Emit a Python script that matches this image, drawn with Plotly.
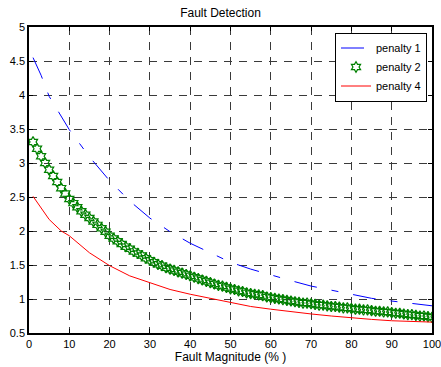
import plotly.graph_objects as go

# ---- data ----
x_p1 = [1, 3, 5, 10, 15, 20, 25, 30, 35, 40, 45, 50, 55, 60, 65, 70, 75, 80, 85, 90, 95, 100]
y_p1 = [4.55, 4.29, 3.98, 3.49, 3.09, 2.74, 2.44, 2.19, 1.99, 1.82, 1.68, 1.54, 1.44, 1.35,
        1.27, 1.19, 1.13, 1.06, 1.01, 0.97, 0.94, 0.90]

x_p2 = list(range(1, 101))
y_p2 = [3.31, 3.21, 3.10, 3.00, 2.90, 2.81, 2.72, 2.63, 2.55, 2.47,
        2.41, 2.35, 2.29, 2.24, 2.19, 2.14, 2.09, 2.04, 1.99, 1.93,
        1.89, 1.85, 1.81, 1.77, 1.74, 1.70, 1.67, 1.64, 1.60, 1.57,
        1.54, 1.51, 1.49, 1.46, 1.44, 1.42, 1.40, 1.38, 1.36, 1.34,
        1.32, 1.30, 1.28, 1.26, 1.24, 1.22, 1.20, 1.19, 1.17, 1.15,
        1.14, 1.12, 1.11, 1.09, 1.08, 1.07, 1.06, 1.05, 1.03, 1.02,
        1.01, 1.00, 0.99, 0.98, 0.97, 0.96, 0.95, 0.94, 0.94, 0.93,
        0.92, 0.91, 0.91, 0.90, 0.89, 0.89, 0.88, 0.87, 0.87, 0.86,
        0.85, 0.85, 0.84, 0.84, 0.83, 0.82, 0.82, 0.81, 0.81, 0.80,
        0.79, 0.79, 0.78, 0.77, 0.77, 0.76, 0.75, 0.75, 0.74, 0.73]

x_p4 = [1, 3, 5, 8, 10, 15, 20, 25, 30, 35, 40, 45, 50, 55, 60, 65, 70, 75, 80, 85, 90, 95, 100]
y_p4 = [2.51, 2.33, 2.17, 2.00, 1.93, 1.68, 1.49, 1.34, 1.24, 1.14, 1.07, 1.01, 0.95, 0.89,
        0.85, 0.81, 0.78, 0.75, 0.72, 0.70, 0.68, 0.67, 0.66]

x_ticks = [0, 10, 20, 30, 40, 50, 60, 70, 80, 90, 100]
y_ticks = [0.5, 1, 1.5, 2, 2.5, 3, 3.5, 4, 4.5, 5]

font = "Liberation Sans, Arial, sans-serif"

fig = go.Figure()
fig.add_trace(go.Scatter(x=x_p1, y=y_p1, mode="lines", name="penalty 1",
                         line=dict(color="#0000ff", width=1, dash="23px,15px,7px,15px")))
fig.add_trace(go.Scatter(x=x_p2, y=y_p2, mode="markers", name="penalty 2",
                         marker=dict(symbol="hexagram-open", size=8, color="#008000",
                                     line=dict(color="#008000", width=1.2))))
fig.add_trace(go.Scatter(x=x_p4, y=y_p4, mode="lines", name="penalty 4",
                         line=dict(color="#ff0000", width=1)))

axis_common = dict(
    showline=True, linecolor="black", linewidth=1.5, mirror="ticks",
    ticks="inside", ticklen=4, tickcolor="black", automargin=False,
    ticklabeloverflow="allow",
    showgrid=True, gridcolor="#3a3a3a", gridwidth=1, griddash="8px,7px",
    zeroline=False, tickfont=dict(family=font, size=11, color="black"),
)

fig.update_xaxes(range=[0, 100], tickvals=x_ticks, ticktext=[str(v) for v in x_ticks],
                 title=dict(text="Fault Magnitude (% )", font=dict(family=font, size=12, color="black"),
                            standoff=1),
                 **axis_common)
fig.update_yaxes(range=[0.5, 5], tickvals=y_ticks, ticktext=[f"{v:g}" for v in y_ticks],
                 **axis_common)

fig.update_layout(
    width=441, height=367,
    margin=dict(l=29, r=9, t=27, b=34),
    paper_bgcolor="white", plot_bgcolor="white",
    title=dict(text="Fault Detection", x=0.5, xanchor="center", y=1 - 13 / 367, yanchor="middle",
               font=dict(family=font, size=12, color="black"), automargin=False),
    showlegend=True,
    legend=dict(x=0.9876, xanchor="right", y=0.982, yanchor="top",
                bgcolor="white", bordercolor="black", borderwidth=1,
                font=dict(family=font, size=11, color="black"),
                tracegroupgap=0, itemwidth=30),
)

fig.write_html("out.html")
